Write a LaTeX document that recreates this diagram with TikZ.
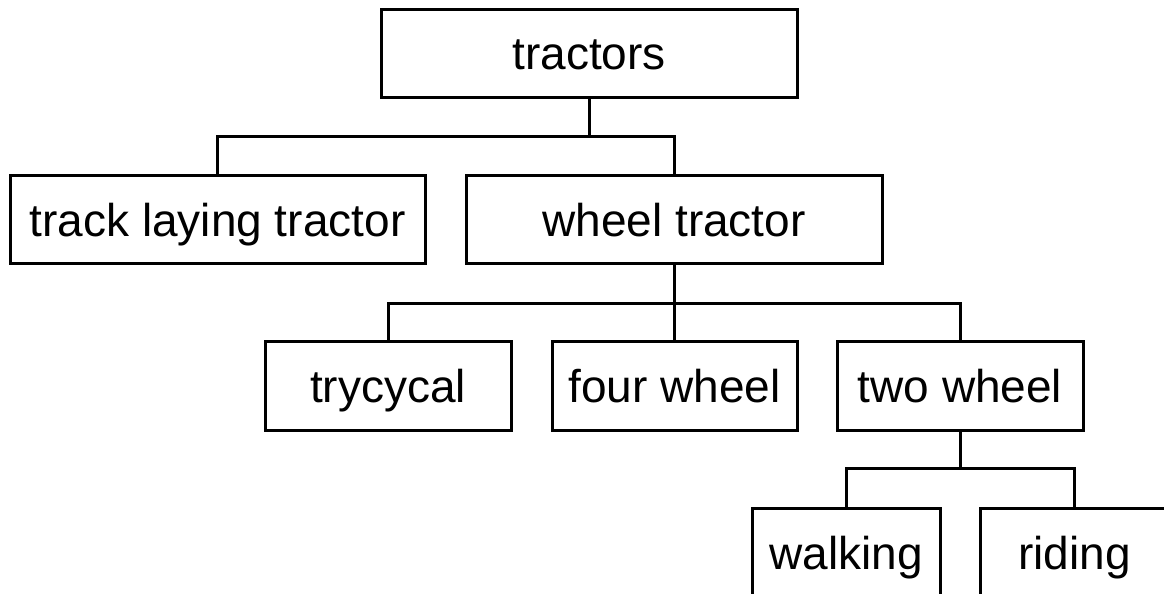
\documentclass[tikz,border=0pt]{standalone}
\usepackage{fontspec}
\setmainfont{Liberation Sans}
\begin{document}
\begin{tikzpicture}[x=1pt,y=-1pt,
  box/.style={draw, line width=3pt, inner sep=0pt, minimum height=88.5pt,
    font=\fontsize{46pt}{55pt}\selectfont, text height=41pt, text depth=8pt},
  wide/.style={box, minimum width=416pt},
  mid/.style={box, minimum width=246pt},
  small/.style={box, minimum width=188pt},
  link/.style={line width=3pt}]
\useasboundingbox (0,0) rectangle (1164,594);
\clip (0,0) rectangle (1164,594);

% tree nodes
\node[wide] (tractors) at (589,53.5)    {tractors};
\node[box, minimum width=415pt] (track) at (217.5,219.5) {track laying tractor};
\node[wide] (wheel)    at (674,219.7)   {wheel tractor};
\node[mid]  (tryc)     at (388,385.8)   {trycycal};
\node[box, minimum width=245pt] (four) at (674.5,385.8) {four wheel};
\node[mid]  (two)      at (960,385.8)   {two wheel};
\node[small] (walk)    at (846,552.6)   {walking};
\node[small] (ride)    at (1074.5,552.6){riding};

% branch points
\coordinate (b1) at (589,136.5);
\coordinate (b2) at (674,303.3);
\coordinate (b3) at (960,468.5);

% connectors
\draw[link] (tractors.south) -- (b1);
\draw[link] (track.north) |- (b1) -| (wheel.north);

\draw[link] (wheel.south) -- (b2);
\draw[link] (tryc.north) |- (b2) -| (two.north);
\draw[link] (four.north) |- (b2);

\draw[link] (two.south) -- (b3);
\draw[link] (walk.north) |- (b3) -| (ride.north);
\end{tikzpicture}
\end{document}
